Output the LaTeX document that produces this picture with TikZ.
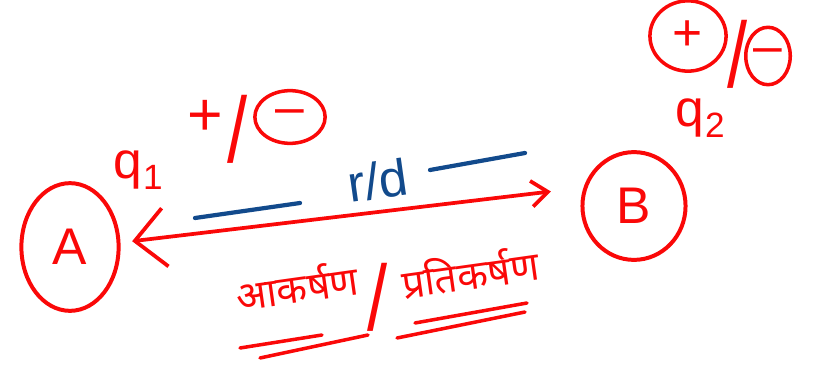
\documentclass[tikz,border=0pt]{standalone}
\usepackage{fontspec}
\setmainfont{Liberation Sans}
\newfontfamily\devfont[Script=Devanagari]{Noto Sans}
\usetikzlibrary{positioning,arrows.meta,shapes.geometric}
\definecolor{inkred}{RGB}{250,8,8}
\definecolor{inkblue}{RGB}{18,74,140}
\tikzset{
  chg/.style={ellipse, draw=inkred, line width=3.4pt, text=inkred, inner sep=0pt, font=\fontsize{44}{48}\selectfont},
  sgn/.style={ellipse, draw=inkred, line width=3pt, text=inkred, inner sep=0pt, font=\fontsize{44}{48}\selectfont},
  lbl/.style={text=inkred, inner sep=0pt, font=\fontsize{44}{48}\selectfont},
  bigsl/.style={text=inkred, inner sep=0pt, font=\fontsize{44}{48}\selectfont},
  hin/.style={text=inkred, inner sep=0pt, font=\devfont\bfseries\fontsize{34}{40}\selectfont, rotate=8},
  dbl/.style={draw=inkred, line width=3.2pt, line cap=round,
    {Straight Barb[length=26pt,width=50pt,line width=3.2pt]}-{Straight Barb[length=14pt,width=22pt,line width=3.2pt]}},
  dim/.style={draw=inkblue, line width=3.6pt, line cap=round},
  ul/.style={draw=inkred, line width=3pt, line cap=round}
}
\newcommand{\tallsl}{\scalebox{1.4}[1.8]{/}}
\begin{document}
\begin{tikzpicture}[x=0.03cm,y=-0.03cm]
  \useasboundingbox (0,0) rectangle (818,369);

  % charges
  \node[chg, minimum width=83pt, minimum height=109pt] (A) at (70,247) {A};
  \node[chg, minimum width=88pt, minimum height=92pt] (B) at (634,206) {B};

  % q1 and its sign
  \node[lbl] (q1) at (138,170) {q\kern1pt\raisebox{-10pt}{\fontsize{30}{30}\selectfont 1}};
  \node[lbl, font=\fontsize{52}{56}\selectfont] (plus1) at (205,118) {+};
  \node[bigsl] (sl1) at (238,129) {\tallsl};
  \node[sgn, minimum width=60pt, minimum height=45pt] (minus1) at (290,117) {\textendash};

  % q2 and its sign
  \node[lbl] (q2) at (700,118) {q\kern1pt\raisebox{-10pt}{\fontsize{30}{30}\selectfont 2}};
  \node[sgn, minimum width=65pt, minimum height=60pt] (plus2) at (688,36) {+};
  \node[bigsl] (sl2) at (738,54) {\tallsl};
  \node[sgn, minimum width=38pt, minimum height=49pt] (minus2) at (768,56) {\textendash};

  % distance between them
  \node[text=inkblue, inner sep=0pt, font=\fontsize{44}{48}\selectfont, rotate=8] (rd) at (378,180) {r/d};
  \coordinate (bl1) at (195,218);
  \coordinate (bl2) at (300,203);
  \coordinate (br1) at (430,170);
  \coordinate (br2) at (525,153);
  \draw[dim] (bl1) -- (bl2);
  \draw[dim] (br1) -- (br2);

  % force line
  \draw[dbl, shorten <=10pt, shorten >=28pt] (A.5) -- (B.160);

  % attraction / repulsion
  \node[hin] (att) at (297,285) {आकर्षण};
  \node[bigsl] (sl3) at (378,297) {\tallsl};
  \node[hin] (rep) at (470,272) {प्रतिकर्षण};
  \coordinate (u1a) at (240,348);
  \coordinate (u1b) at (322,335);
  \coordinate (u2a) at (260,358);
  \coordinate (u2b) at (368,335);
  \coordinate (u3a) at (415,323);
  \coordinate (u3b) at (527,303);
  \coordinate (u4a) at (397,338);
  \coordinate (u4b) at (525,312);
  \draw[ul] (u1a) -- (u1b);
  \draw[ul] (u2a) -- (u2b);
  \draw[ul] (u3a) -- (u3b);
  \draw[ul] (u4a) -- (u4b);
\end{tikzpicture}
\end{document}
